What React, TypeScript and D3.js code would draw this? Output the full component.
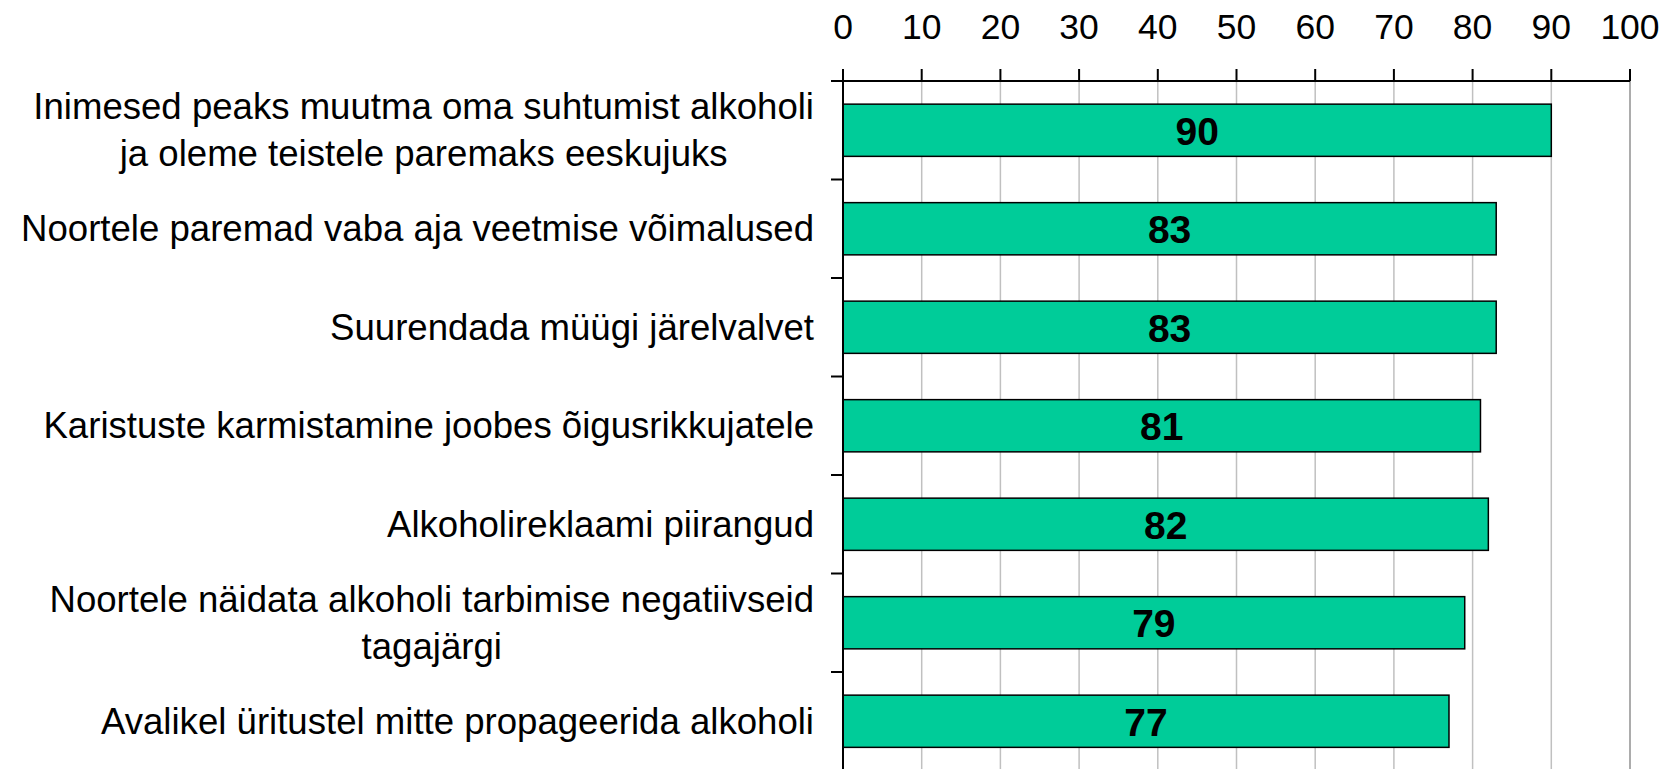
import * as d3 from 'd3';

const CATEGORIES: string[][] = [
  ['Inimesed peaks muutma oma suhtumist alkoholi', 'ja oleme teistele paremaks eeskujuks'],
  ['Noortele paremad vaba aja veetmise võimalused'],
  ['Suurendada müügi järelvalvet'],
  ['Karistuste karmistamine joobes õigusrikkujatele'],
  ['Alkoholireklaami piirangud'],
  ['Noortele näidata alkoholi tarbimise negatiivseid', 'tagajärgi'],
  ['Avalikel üritustel mitte propageerida alkoholi'],
];
const VALUES = [90, 83, 83, 81, 82, 79, 77];
const X_TICKS = [0, 10, 20, 30, 40, 50, 60, 70, 80, 90, 100];

const VW = 1671;
const VH = 769;
const X0 = 843;
const X1 = 1630;
const Y0 = 81;
const Y1 = 770.5;
const LABEL_RIGHT = 814;

const BAR = '#00CC99';
const GRID = '#c0c0c0';
const FONT = "'Liberation Sans', Arial, sans-serif";
const LABEL_SIZE = 36.6;
const LINE_GAP = 47;

const xScale = d3.scaleLinear().domain([0, 100]).range([X0, X1]);
const keys = CATEGORIES.map((_, i) => String(i));
const yScale = d3.scaleBand<string>()
  .domain(keys)
  .range([Y0, Y1])
  .paddingInner(0.47)
  .paddingOuter(0.235);
const step = yScale.step();
const bounds = d3.range(keys.length + 1).map(i => Y0 + i * step);

let ctx: CanvasRenderingContext2D | null = null;
function textWidth(s: string) {
  if (!ctx) ctx = document.createElement('canvas').getContext('2d');
  if (!ctx) return s.length * LABEL_SIZE * 0.5;
  ctx.font = `${LABEL_SIZE}px ${FONT}`;
  return ctx.measureText(s).width;
}

export default function App() {
  return (
    <svg width={VW} height={VH} viewBox={`0 0 ${VW} ${VH}`}
      style={{ position: 'absolute', left: 0, top: 0, display: 'block', background: '#fff' }}
      fontFamily={FONT}>
      {X_TICKS.filter(t => t > 0).map(t => (
        <line key={`g${t}`} x1={xScale(t)} x2={xScale(t)} y1={Y0} y2={VH}
          stroke={t === 100 ? '#909090' : GRID} strokeWidth={1.5} />
      ))}

      {VALUES.map((v, i) => (
        <rect key={`b${i}`} x={xScale(0)} y={yScale(String(i))}
          width={xScale(v) - xScale(0)} height={yScale.bandwidth()}
          fill={BAR} stroke="#000" strokeWidth={1.5} />
      ))}

      <line x1={X0 - 12} x2={X1} y1={Y0} y2={Y0} stroke="#000" strokeWidth={2} />
      <line x1={X0} x2={X0} y1={Y0} y2={VH} stroke="#000" strokeWidth={2} />

      {X_TICKS.map(t => (
        <g key={`t${t}`}>
          <line x1={xScale(t)} x2={xScale(t)} y1={Y0 - 12} y2={Y0} stroke="#000" strokeWidth={2} />
          <text x={xScale(t)} y={39} textAnchor="middle" fontSize={35.5} fill="#000">{t}</text>
        </g>
      ))}

      {bounds.map((y, i) => (
        <line key={`ct${i}`} x1={X0 - 12} x2={X0} y1={y} y2={y} stroke="#000" strokeWidth={2} />
      ))}

      {CATEGORIES.map((lines, i) => {
        const cy = (yScale(String(i)) ?? 0) + yScale.bandwidth() / 2;
        const maxW = Math.max(...lines.map(textWidth));
        const cx = LABEL_RIGHT - maxW / 2;
        return (
          <text key={`c${i}`} x={cx} textAnchor="middle" fontSize={LABEL_SIZE} fill="#000">
            {lines.map((l, j) => (
              <tspan key={j} x={cx}
                y={cy + 12.6 + (j - (lines.length - 1) / 2) * LINE_GAP}>{l}</tspan>
            ))}
          </text>
        );
      })}

      {VALUES.map((v, i) => (
        <text key={`v${i}`} x={(xScale(0) + xScale(v)) / 2}
          y={(yScale(String(i)) ?? 0) + yScale.bandwidth() / 2} dy="0.37em"
          textAnchor="middle" fontSize={39} fontWeight={700} fill="#000">
          {v}
        </text>
      ))}
    </svg>
  );
}
